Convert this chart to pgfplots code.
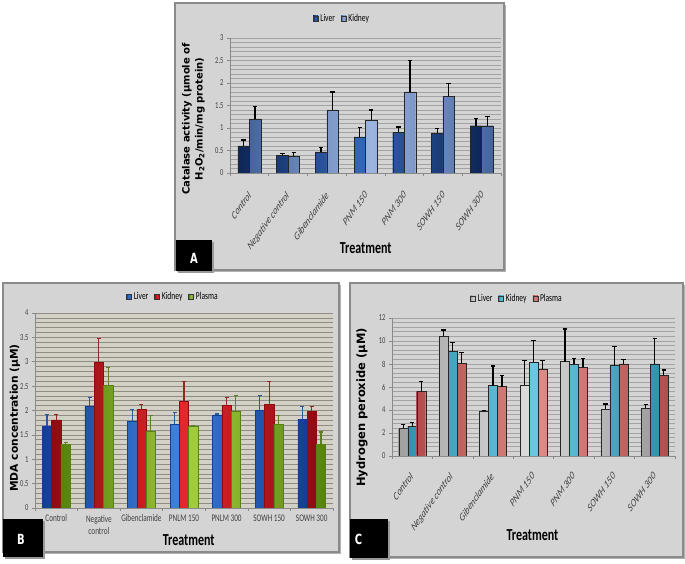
\documentclass[border=0pt]{standalone}
\usepackage{graphicx}
\usepackage{pgfplots}
\pgfplotsset{compat=1.18}
\usepackage{fontspec}
\setmainfont{Carlito}
\newfontfamily\dvs{DejaVu Sans}

\definecolor{panelbg}{HTML}{D4D4D4}
\definecolor{panelbd}{HTML}{8A8A8A}
\definecolor{gridc}{HTML}{A3A3A3}
\definecolor{bbg}{HTML}{D3D1C6}
\definecolor{bgrid}{HTML}{8E8C84}
\definecolor{tickc}{HTML}{404040}
% panel A
\definecolor{aLe}{HTML}{0E2656}
\definecolor{aLm}{HTML}{3466B8}
\definecolor{aKe}{HTML}{45649E}
\definecolor{aKm}{HTML}{9CB4DF}
% panel B
\definecolor{bLe}{HTML}{123F91}
\definecolor{bLm}{HTML}{3D7FDB}
\definecolor{bKe}{HTML}{8E0B12}
\definecolor{bKm}{HTML}{E3272D}
\definecolor{bPe}{HTML}{56820F}
\definecolor{bPm}{HTML}{A2CC3E}
\definecolor{bLr}{HTML}{2A5A9A}
\definecolor{bKr}{HTML}{8E2A20}
\definecolor{bPr}{HTML}{5E7D22}
% panel C
\definecolor{cLe}{HTML}{A0A0A0}
\definecolor{cLm}{HTML}{DADADA}
\definecolor{cKe}{HTML}{3591AD}
\definecolor{cKm}{HTML}{6CC6DF}
\definecolor{cPe}{HTML}{B04E4E}
\definecolor{cPm}{HTML}{DC8A86}

\newcommand{\vs}[1]{\scalebox{1}[1.4]{#1}}
\newcommand{\rl}[1]{\scalebox{1}[1.4]{\rotatebox{45}{\itshape #1}}}

\pgfplotsset{
  panel/.style={
    scale only axis, anchor=south west,
    ybar=0pt,
    xmin=-0.5, xmax=6.5, ymin=0,
    xtick={0,...,6},
    minor xtick={-0.5,0.5,...,6.5},
    axis x line*=bottom, axis y line*=left,
    axis line style={draw=panelbd, line width=0.6pt},
    tick style={draw=panelbd, line width=0.6pt},
    major x tick style={draw=none},
    minor y tick style={draw=none},
    tick align=outside,
    major tick length=3pt, minor tick length=3pt,
    ymajorgrids, yminorgrids,
    major grid style={draw=gridc, line width=0.6pt},
    minor grid style={draw=gridc, line width=0.6pt},
    minor y tick num=4,
    yticklabel={\vs{\pgfmathprintnumber[assume math mode=true]{\tick}}},
    yticklabel style={font=\fontsize{6.5}{7}\selectfont, text=tickc},
    xticklabel style={text=tickc},
    error bars/y dir=plus, error bars/y explicit,
    error bars/error mark=-,
    error bars/error bar style={line width=1.3pt, black},
    error bars/error mark options={rotate=90, line width=1.3pt, black, mark size=2.2pt},
    legend style={draw=none, fill=none, legend columns=-1,
      font=\fontsize{7.5}{8}\selectfont, anchor=center,
      /tikz/every even column/.append style={column sep=4pt}},
    legend image code/.code={\draw[##1,/tikz/.cd,draw=black!80,line width=0.5pt] (0pt,-2.5pt) rectangle (5pt,3pt);},
  },
  rot labels/.style={
    xticklabel style={anchor=north east, font=\fontsize{8.2}{9}\selectfont},
    xticklabels={\rl{Control},\rl{Negative control},\rl{Gibenclamide},\rl{PNM 150},\rl{PNM 300},\rl{SOWH 150},\rl{SOWH 300}},
  },
}

\begin{document}
\begin{tikzpicture}[x=1pt,y=1pt]
\path[use as bounding box] (0,0) rectangle (685,564);

% panel frames
\fill[black!30] (177,292) rectangle (506,559);
\filldraw[fill=panelbg, draw=panelbd, line width=1.2pt] (175,294) rectangle (504,561);
\fill[black!30] (5,10) rectangle (341,279);
\filldraw[fill=panelbg, draw=panelbd, line width=1.2pt] (3,12) rectangle (339,281);
\fill[black!30] (352,5) rectangle (685,279);
\filldraw[fill=panelbg, draw=panelbd, line width=1.2pt] (350,7) rectangle (683,281);

% ---------------- A ----------------
\begin{axis}[panel, rot labels, at={(230pt,391pt)}, width=271pt, height=135pt,
  ymax=3, ytick={0,0.5,1,1.5,2,2.5,3}, bar width=11.5pt,
  xticklabel style={yshift=-11pt, xshift=6pt},
  legend style={at={(0.413,1.141)}}]
\addplot[draw=black!85, left color=aLe, right color=aLe, middle color=aLm]
  coordinates {(0,0.60)+-(0,0.13) (1,0.39)+-(0,0.05) (2,0.47)+-(0,0.10) (3,0.80)+-(0,0.21) (4,0.90)+-(0,0.12) (5,0.88)+-(0,0.11) (6,1.05)+-(0,0.16)};
\addlegendentry{\vs{Liver}}
\addplot[draw=black!85, left color=aKe, right color=aKe, middle color=aKm]
  coordinates {(0,1.20)+-(0,0.27) (1,0.37)+-(0,0.08) (2,1.40)+-(0,0.40) (3,1.17)+-(0,0.23) (4,1.80)+-(0,0.70) (5,1.71)+-(0,0.28) (6,1.05)+-(0,0.20)};
\addlegendentry{\vs{Kidney}}
\end{axis}

% ---------------- B ----------------
\begin{axis}[panel, at={(35pt,56pt)}, width=298pt, height=195pt,
  ymax=4, ytick={0,0.5,1,1.5,2,2.5,3,3.5,4}, bar width=9.3pt,
  axis background/.style={fill=bbg},
  major grid style={draw=bgrid, line width=0.6pt},
  minor grid style={draw=bgrid, line width=0.6pt},
  xticklabel style={font=\fontsize{7.2}{8.4}\selectfont, align=center, anchor=north},
  xticklabels={\vs{Control},\vs{\begin{tabular}{@{}c@{}}Negative\\control\end{tabular}},\vs{Gibenclamide},\vs{PNLM 150},\vs{PNLM 300},\vs{SOWH 150},\vs{SOWH 300}},
  legend style={at={(0.463,1.082)}}]
\addplot[draw=bLe, left color=bLe, right color=bLe, middle color=bLm,
  error bars/error bar style={line width=1.2pt, bLr},
  error bars/error mark options={rotate=90, line width=1.2pt, bLr, mark size=2pt}]
  coordinates {(0,1.68)+-(0,0.24) (1,2.09)+-(0,0.18) (2,1.78)+-(0,0.24) (3,1.72)+-(0,0.24) (4,1.91)+-(0,0.02) (5,2.01)+-(0,0.29) (6,1.82)+-(0,0.27)};
\addlegendentry{\vs{Liver}}
\addplot[draw=bKe, left color=bKe, right color=bKe, middle color=bKm,
  error bars/error bar style={line width=1.2pt, bKr},
  error bars/error mark options={rotate=90, line width=1.2pt, bKr, mark size=2pt}]
  coordinates {(0,1.81)+-(0,0.11) (1,2.99)+-(0,0.48) (2,2.02)+-(0,0.10) (3,2.19)+-(0,0.40) (4,2.11)+-(0,0.15) (5,2.13)+-(0,0.46) (6,1.98)+-(0,0.10)};
\addlegendentry{\vs{Kidney}}
\addplot[draw=bPe, left color=bPe, right color=bPe, middle color=bPm,
  error bars/error bar style={line width=1.2pt, bPr},
  error bars/error mark options={rotate=90, line width=1.2pt, bPr, mark size=2pt}]
  coordinates {(0,1.31)+-(0,0.04) (1,2.51)+-(0,0.37) (2,1.57)+-(0,0.33) (3,1.67)+-(0,0.01) (4,1.98)+-(0,0.32) (5,1.72)+-(0,0.17) (6,1.31)+-(0,0.25)};
\addlegendentry{\vs{Plasma}}
\end{axis}

% ---------------- C ----------------
\begin{axis}[panel, rot labels, at={(392pt,108pt)}, width=283pt, height=138pt,
  ymax=12, ytick={0,2,4,6,8,10,12}, bar width=9pt,
  xticklabel style={yshift=-9pt, xshift=5pt},
  legend style={at={(0.442,1.138)}}]
\addplot[draw=black!85, left color=cLe, right color=cLe, middle color=cLm]
  coordinates {(0,2.41)+-(0,0.34) (1,10.41)+-(0,0.55) (2,3.88)+-(0,0.09) (3,6.17)+-(0,2.15) (4,8.20)+-(0,2.84) (5,4.06)+-(0,0.46) (6,4.14)+-(0,0.35)};
\addlegendentry{\vs{Liver}}
\addplot[draw=black!85, left color=cKe, right color=cKe, middle color=cKm]
  coordinates {(0,2.55)+-(0,0.38) (1,9.13)+-(0,0.72) (2,6.12)+-(0,1.71) (3,8.15)+-(0,1.87) (4,7.97)+-(0,0.49) (5,7.86)+-(0,1.65) (6,8.00)+-(0,2.20)};
\addlegendentry{\vs{Kidney}}
\addplot[draw=black!85, left color=cPe, right color=cPe, middle color=cPm]
  coordinates {(0,5.65)+-(0,0.81) (1,8.06)+-(0,0.93) (2,6.03)+-(0,0.96) (3,7.57)+-(0,0.75) (4,7.71)+-(0,0.75) (5,8.00)+-(0,0.38) (6,7.02)+-(0,0.46)};
\addlegendentry{\vs{Plasma}}
\end{axis}

% axis titles
\node[rotate=90, align=center, font=\dvs\bfseries\fontsize{10}{13}\selectfont] at (193.5,445)
  {Catalase activity (µmole of\\H\textsubscript{2}O\textsubscript{2}/min/mg protein)};
\node[rotate=90, font=\dvs\bfseries\fontsize{10.7}{13}\selectfont] at (15,146) {MDA concentration (µM)};
\node[rotate=90, font=\dvs\bfseries\fontsize{11.5}{13}\selectfont] at (362,156.5) {Hydrogen peroxide (µM)};
\node[font=\bfseries\fontsize{12}{14}\selectfont] at (365.7,315.7) {\vs{Treatment}};
\node[font=\bfseries\fontsize{12}{14}\selectfont] at (188.7,24) {\vs{Treatment}};
\node[font=\bfseries\fontsize{12}{14}\selectfont] at (532.5,29) {\vs{Treatment}};

% panel letters
\fill[black!40] (178,291) rectangle (214,322);
\fill[black] (176,293) rectangle (212,324);
\node[text=white, font=\dvs\bfseries\fontsize{10}{12}\selectfont] at (194,306) {\vs{A}};
\fill[black!40] (5,5) rectangle (45,43);
\fill[black] (3,7) rectangle (43,45);
\node[text=white, font=\dvs\bfseries\fontsize{10}{12}\selectfont] at (21,25) {\vs{B}};
\fill[black!40] (352,4) rectangle (390,43);
\fill[black] (350,6) rectangle (388,45);
\node[text=white, font=\dvs\bfseries\fontsize{10}{12}\selectfont] at (358.5,25) {\vs{C}};
\end{tikzpicture}
\end{document}
